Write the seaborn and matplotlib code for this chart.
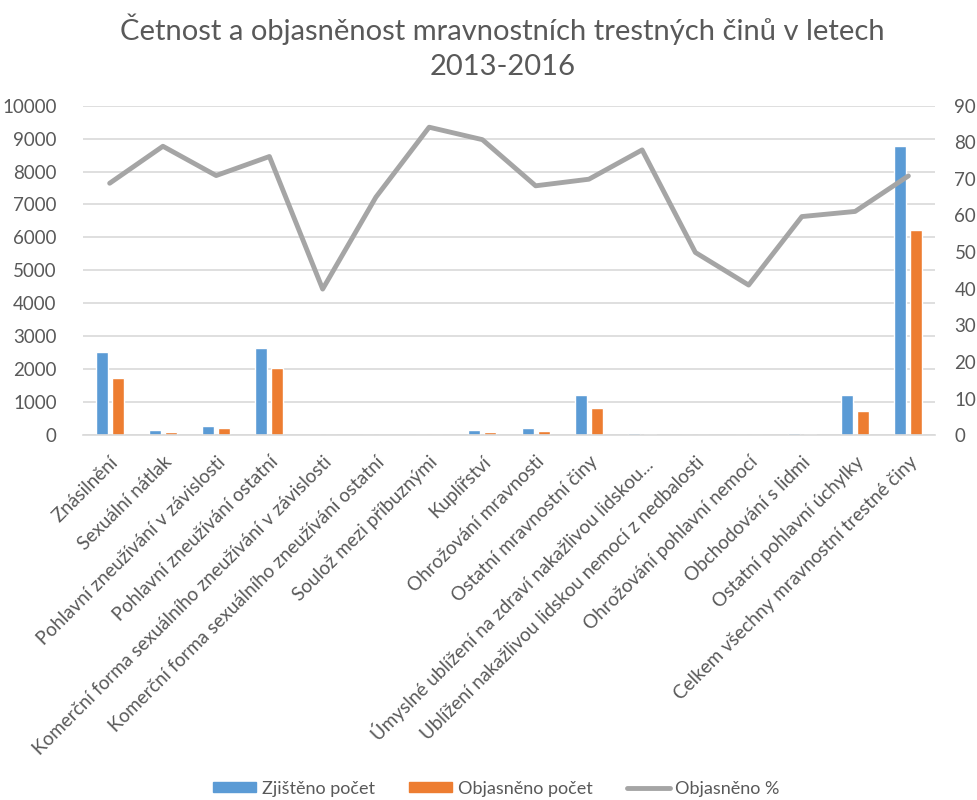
import numpy as np
import pandas as pd
import matplotlib
matplotlib.use("Agg")
import matplotlib.pyplot as plt
import seaborn as sns

sns.set_theme(style="white")
plt.rcParams["font.family"] = ["Lato", "DejaVu Sans"]
TXT = "#595959"
GRID = "#D9D9D9"

# data
categories = [
    "Znásilnění",
    "Sexuální nátlak",
    "Pohlavní zneužívání v závislosti",
    "Pohlavní zneužívání ostatní",
    "Komerční forma sexuálního zneužívání v závislosti",
    "Komerční forma sexuálního zneužívání ostatní",
    "Soulož mezi příbuznými",
    "Kuplířství",
    "Ohrožování mravnosti",
    "Ostatní mravnostní činy",
    "Úmyslné ublížení na zdraví nakažlivou lidskou...",
    "Ublížení nakažlivou lidskou nemocí z nedbalosti",
    "Ohrožování pohlavní nemocí",
    "Obchodování s lidmi",
    "Ostatní pohlavní úchylky",
    "Celkem všechny mravnostní trestné činy",
]
zjisteno = [2510, 170, 265, 2660, 10, 5, 10, 165, 215, 1210, 55, 5, 5, 55, 1210, 8780]
objasneno = [1730, 110, 205, 2035, 4, 3, 8, 110, 115, 840, 50, 3, 2, 30, 740, 6240]
objasneno_pct = [68.8, 78.9, 70.9, 76.1, 39.9, 65.0, 84.1, 80.7,
                 68.1, 69.9, 77.9, 49.9, 41.0, 59.7, 61.1, 70.8]

series_names = ["Zjištěno počet", "Objasněno počet", "Objasněno %"]
colors = ["#5B9BD5", "#ED7D31", "#A5A5A5"]

df = pd.DataFrame({
    "kategorie": categories * 2,
    "pocet": zjisteno + objasneno,
    "serie": [series_names[0]] * len(categories) + [series_names[1]] * len(categories),
})

fig = plt.figure(figsize=(9.77, 8), dpi=100)
ax = fig.add_axes([0.085, 0.456, 0.872, 0.412])

sns.barplot(data=df, x="kategorie", y="pocet", hue="serie",
            palette=colors[:2], width=0.6, gap=0.25, saturation=1,
            order=categories, ax=ax, legend=False)
ax.set_ylim(0, 10000)
ax.set_yticks(np.arange(0, 10001, 1000))
ax.set_xlim(-0.5, len(categories) - 0.5)
ax.yaxis.grid(True, color=GRID, linewidth=1.2)
ax.set_axisbelow(True)
ax.set_xlabel("")
ax.set_ylabel("")
for s in ["top", "left", "right"]:
    ax.spines[s].set_visible(False)
ax.spines["bottom"].set_color(GRID)
ax.spines["bottom"].set_linewidth(1.2)
ax.tick_params(axis="both", length=0, colors=TXT, labelsize=13.5)
ax.tick_params(axis="y", pad=19)
ax.set_xticks(range(len(categories)))
ax.set_xticklabels(categories, rotation=45, ha="right", rotation_mode="anchor",
                   fontsize=13.6, color=TXT)
ax.tick_params(axis="x", pad=13)

ax2 = ax.twinx()
sns.lineplot(x=np.arange(len(categories)), y=objasneno_pct, ax=ax2,
             color=colors[2], linewidth=3.5)
ax2.set_ylim(0, 90)
ax2.set_yticks(np.arange(0, 91, 10))
ax2.tick_params(axis="y", length=0, colors=TXT, labelsize=13.5, pad=14)
for s in ax2.spines.values():
    s.set_visible(False)
ax2.set_xlim(-0.5, len(categories) - 0.5)

fig.suptitle("Četnost a objasněnost mravnostních trestných činů v letech\n2013-2016",
             x=0.514, y=0.983, fontsize=21, color=TXT, linespacing=1.42)

handles = [
    plt.Rectangle((0, 0), 1, 1, color=colors[0]),
    plt.Rectangle((0, 0), 1, 1, color=colors[1]),
    plt.Line2D([0], [0], color=colors[2], linewidth=3.5),
]
fig.legend(handles, series_names, loc="lower center", bbox_to_anchor=(0.508, -0.016),
           ncol=3, frameon=False, fontsize=13, labelcolor=TXT,
           handlelength=2.4, handleheight=0.5, handletextpad=0.3, columnspacing=1.9)

fig.savefig("out.png", dpi=100)
